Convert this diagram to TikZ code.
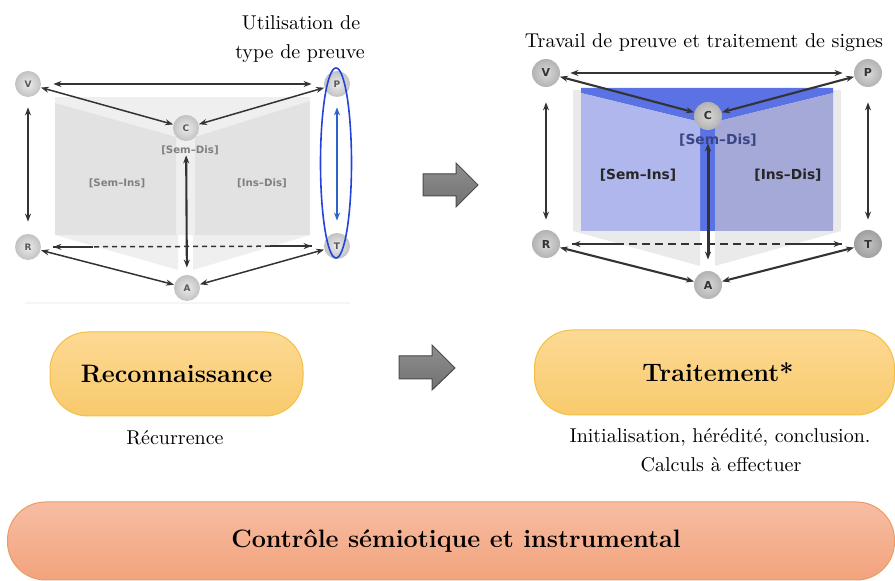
\documentclass[tikz,border=0pt]{standalone}
\usepackage{fontspec}
\newfontfamily\labfont{DejaVu Sans}
\usetikzlibrary{arrows.meta,calc}
\definecolor{gbg}{HTML}{EFEFEF}
\definecolor{gpage}{HTML}{E2E2E2}
\definecolor{rbg}{HTML}{EAEAEA}
\definecolor{bdark}{HTML}{5A72E4}
\definecolor{bleft}{HTML}{B0B7EC}
\definecolor{bright}{HTML}{A4A9D8}
\definecolor{yelT}{HTML}{FDD994}
\definecolor{yelB}{HTML}{F8CA6C}
\definecolor{yelD}{HTML}{F3C047}
\definecolor{salT}{HTML}{F7BDA3}
\definecolor{salB}{HTML}{F2A37C}
\definecolor{salD}{HTML}{EE9A66}
\definecolor{ellblue}{HTML}{2244DD}
\definecolor{arrblue}{HTML}{2D62C9}
\definecolor{lnk}{HTML}{333333}
\definecolor{semdis}{HTML}{3A4585}
\definecolor{arrT}{HTML}{8E8E8E}
\definecolor{arrB}{HTML}{727272}
\begin{document}
\begin{tikzpicture}[x=0.5pt,y=-0.5pt,
  tip/.tip={Stealth[length=4pt,width=3pt]},
  lk/.style={draw=lnk, line width=0.75pt, tip-tip},
  lkplain/.style={draw=lnk, line width=0.75pt},
  lkb/.style={draw=lnk, line width=1.05pt, tip-tip},
  lkbplain/.style={draw=lnk, line width=1.05pt},
  vl/.style={circle, minimum size=13pt, inner sep=0pt, shading=radial,
    inner color=gray!15, outer color=gray!48,
    font=\labfont\fontsize{4.5}{5}\selectfont\bfseries, text=black!65},
  vr/.style={circle, minimum size=14pt, inner sep=0pt, shading=radial,
    inner color=gray!30, outer color=gray!60,
    font=\labfont\fontsize{5.5}{6}\selectfont\bfseries, text=black!80},
  labl/.style={font=\labfont\fontsize{5.1}{6}\selectfont\bfseries, text=black!50},
  labr/.style={font=\labfont\fontsize{6.9}{8}\selectfont\bfseries, text=black!85},
  ybox/.style={draw=yelD, line width=0.5pt, top color=yelT, bottom color=yelB,
    rounded corners=19pt, font=\fontsize{12.6}{15}\selectfont\bfseries},
  sbox/.style={draw=salD, line width=0.5pt, top color=salT, bottom color=salB,
    rounded corners=19pt, font=\fontsize{12.6}{15}\selectfont\bfseries},
  bigarr/.style={draw=black!70, line width=0.5pt, top color=arrT, bottom color=arrB},
  txt/.style={font=\normalsize, inner sep=0pt}
]
\useasboundingbox (0,0) rectangle (895,581);

% ---------- left book ----------
\fill[gbg] (55,97) rectangle (310,235);
\fill[gbg] (55,235) -- (178,235) -- (178,270) -- cycle;
\fill[gbg] (193,235) -- (310,235) -- (193,270) -- cycle;
\fill[gpage] (55,103) -- (176,137) -- (176,235) -- (55,235) -- cycle;
\fill[gpage] (195,137) -- (310,101) -- (310,235) -- (195,235) -- cycle;
\draw[gray!8, line width=0.6pt] (25,303) -- (350,303);

% ---------- right book ----------
\fill[rbg] (573,90) rectangle (841,231);
\fill[rbg] (573,231) -- (700,231) -- (700,266) -- cycle;
\fill[rbg] (715,231) -- (841,231) -- (715,266) -- cycle;
\fill[bdark] (581,88) -- (833,88) -- (833,93) -- (715,122) -- (715,231) -- (700,231) -- (700,122) -- (581,93) -- cycle;
\fill[bleft] (581,93) -- (700,122) -- (700,231) -- (581,231) -- cycle;
\fill[bright] (715,122) -- (833,93) -- (833,231) -- (715,231) -- cycle;

% ---------- labels in books ----------
\node[labl] (lsd) at (190,150) {[Sem–Dis]};
\node[labl] (lsi) at (117,183) {[Sem–Ins]};
\node[labl] (lid) at (262,183) {[Ins–Dis]};
\node[labr, text=semdis] (rsd) at (718,140) {[Sem–Dis]};
\node[labr] (rsi) at (638,175) {[Sem–Ins]};
\node[labr] (rid) at (788,175) {[Ins–Dis]};

% ---------- left nodes ----------
\node[vl] (V) at (28,84) {V};
\node[vl] (P) at (337,84) {P};
\node[vl] (C) at (186,128) {C};
\node[vl] (R) at (28,247) {R};
\node[vl] (T) at (337,246) {T};
\node[vl] (A) at (187,288) {A};

\draw[lk, shorten <=6pt, shorten >=6pt] (V) -- (P);
\draw[lk] (V) -- (C);
\draw[lk] (P) -- (C);
\draw[lk] (R) -- (A);
\draw[lk] (T) -- (A);
\draw[lk, shorten <=5pt, shorten >=6pt] (V) -- (R);
\draw[lk, draw=arrblue, line width=0.85pt, shorten <=5pt, shorten >=6pt] (P) -- (T);
\draw[lk, dash pattern=on 2.5pt off 2pt, shorten <=6pt, shorten >=6pt] (R) -- (T);
\draw[lkplain] ($(R.east)+(12,0)$) -- ($(R.east)+(52,0)$);
\draw[lkplain] ($(T.west)+(-54,0)$) -- ($(T.west)+(-12,0)$);
\draw[lkb, shorten <=7pt, shorten >=3.5pt] (C) -- (A);
\draw[ellblue, line width=0.8pt] ($(P)!0.5!(T)+(-1,-2)$) ellipse [x radius=7.75pt, y radius=47.5pt];

% ---------- right nodes ----------
\node[vr] (V2) at (546,73) {V};
\node[vr] (P2) at (868,73) {P};
\node[vr] (C2) at (708,116) {C};
\node[vr] (R2) at (546,244) {R};
\node[vr, inner color=gray!48, outer color=gray!75] (T2) at (868,244) {T};
\node[vr] (A2) at (708,285) {A};

\draw[lkb, shorten <=5pt, shorten >=5.5pt] (V2) -- (P2);
\draw[lkb] (V2) -- (C2);
\draw[lkb] (P2) -- (C2);
\draw[lkb] (R2) -- (A2);
\draw[lkb] (T2) -- (A2);
\draw[lkb, shorten <=7.5pt, shorten >=5pt] (V2) -- (R2);
\draw[lkb, shorten <=7.5pt, shorten >=5pt] (P2) -- (T2);
\draw[lkb, dash pattern=on 4pt off 2.5pt, shorten <=6pt, shorten >=6pt] (R2) -- (T2);
\draw[lkbplain] ($(R2.east)+(12,0)$) -- ($(R2.east)+(60,0)$);
\draw[lkbplain] ($(T2.west)+(-61,0)$) -- ($(T2.west)+(-12,0)$);
\draw[lkb, line width=1.5pt, shorten <=6.5pt, shorten >=5.5pt] (C2) -- (A2);

% ---------- titles ----------
\node[txt] (t1) at (301,23) {Utilisation de};
\node[txt] (t2) at (300,54) {type de preuve};
\node[txt] (t3) at (704,43) {Travail de preuve et traitement de signes};

% ---------- big arrows ----------
\fill[bigarr] (423,174) -- (456,174) -- (456,163) -- (478,185) -- (456,207) -- (456,196) -- (423,196) -- cycle;
\fill[bigarr] (399,356) -- (432,356) -- (432,345) -- (455,368) -- (432,390) -- (432,379) -- (399,379) -- cycle;

% ---------- boxes ----------
\node[ybox, minimum width=126.5pt, minimum height=42pt] (rec) at (176.5,374) {Reconnaissance};
\node[ybox, minimum width=180pt, minimum height=42.5pt] (tra) at (714.5,372.5) {\hspace*{3.5pt}Traitement*};
\node[sbox, minimum width=443.5pt, minimum height=39pt] (ctl) at (451,541) {\hspace*{5pt}Contrôle sémiotique et instrumental};

\node[txt] (rc) at (175,438) {Récurrence};
\node[txt] (ih) at (720,437) {Initialisation, hérédité, conclusion.};
\node[txt] (ca) at (721,465) {Calculs à effectuer};
\end{tikzpicture}
\end{document}
